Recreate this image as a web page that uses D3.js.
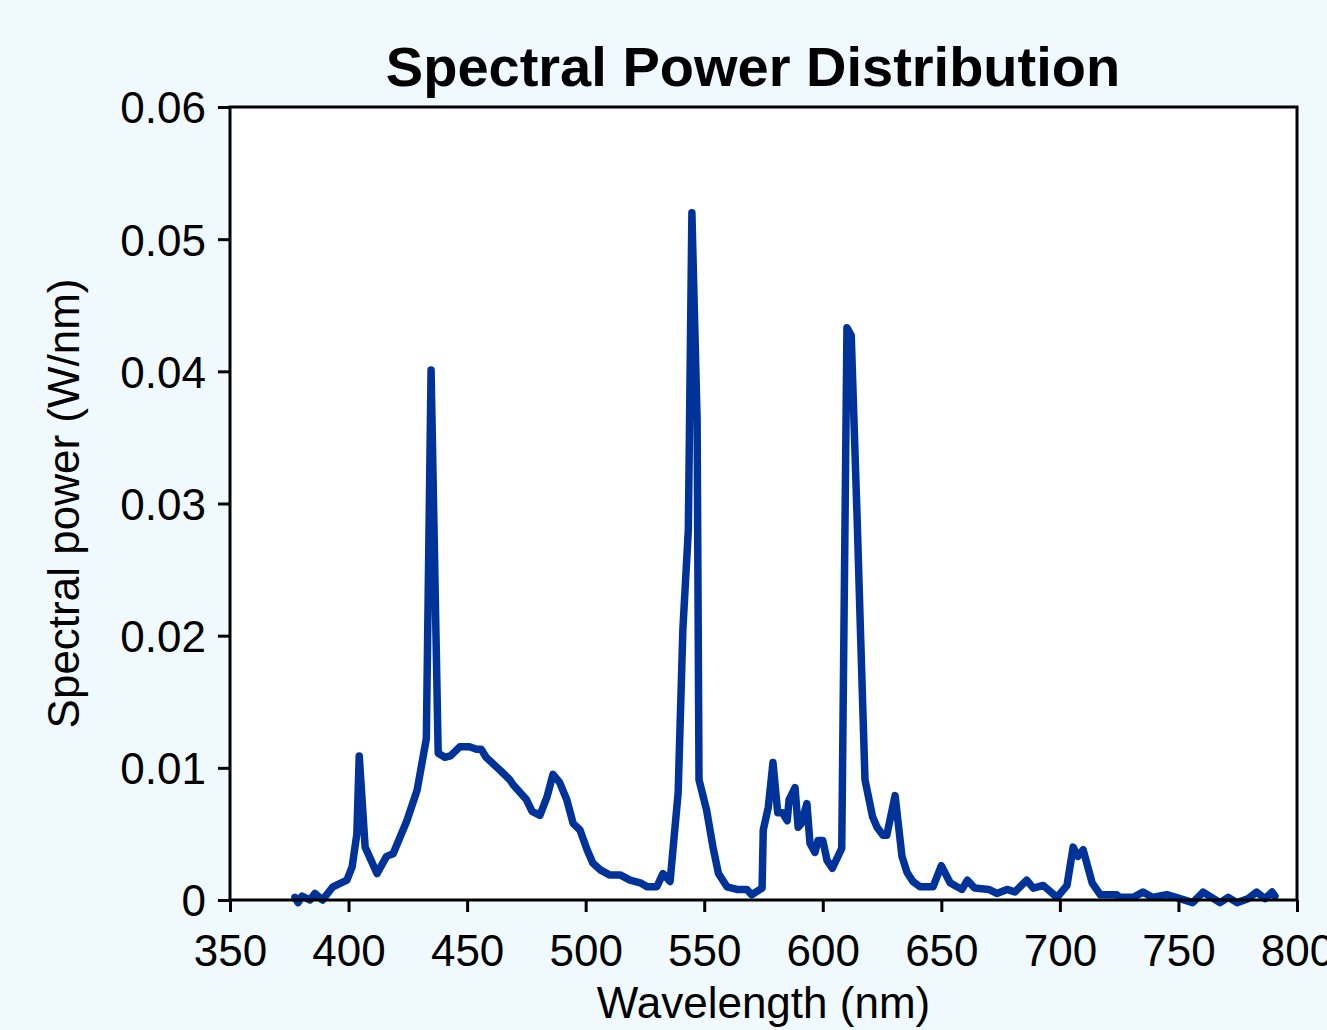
<!DOCTYPE html>
<html>
<head>
<meta charset="utf-8">
<script src="https://cdn.jsdelivr.net/npm/d3@7"></script>
<style>
  body { margin: 0; background: #f0f9fd; }
  svg { display: block; font-family: "Liberation Sans", Arial, sans-serif; }
</style>
</head>
<body>
<div class="chart"></div>
<script>
const W = 1327, H = 1030;
const margin = ({top: 107, right: 30, bottom: 130, left: 230});
const width = W - margin.left - margin.right;
const height = H - margin.top - margin.bottom;

// data
const wavelengths = [377.4, 378.7, 380.4, 383.7, 385.8, 389, 393.4, 399.3, 401.5, 403.5,
  404.5, 407, 412, 416, 418.8, 424.6, 428.9, 432.8, 434.8, 437.8,
  440.6, 443, 447, 451, 454, 456, 458, 464, 468, 469.5,
  475, 477.4, 480.7, 483.7, 486.2, 489, 492, 494.7, 497.6, 500.6,
  503, 506, 510, 514.5, 518.7, 523, 525.9, 530, 532.6, 535.6,
  539, 541, 543.3, 544.8, 547, 547.8, 551, 553.7, 556, 559.6,
  563.8, 568, 570, 574.4, 574.9, 577, 579, 581, 583, 585,
  585.8, 588.3, 589.6, 591, 593.3, 594.6, 596.7, 598, 600, 601.8,
  604, 608, 610.2, 612, 614.5, 616, 617.8, 621, 622.9, 625.4,
  627, 630.5, 633.4, 635.5, 638, 641, 646.5, 650, 653.7, 656.6,
  658.7, 661, 664, 670, 673.4, 677.7, 681, 686, 688.8, 693,
  698.8, 703, 705.6, 707.6, 709.8, 713.6, 717, 724, 725, 731,
  735, 739, 745, 749, 756, 760.4, 767.5, 771, 774.7, 779.3,
  783, 786.5, 789.5, 790.7];
const power = [0.0002, -0.0002, 0.0003, 0.0000, 0.0005, 0.0000, 0.0010, 0.0015, 0.0025, 0.0050,
  0.0109, 0.0040, 0.0020, 0.0033, 0.0035, 0.0060, 0.0083, 0.0122, 0.0401, 0.0111,
  0.0108, 0.0109, 0.0116, 0.0116, 0.0114, 0.0114, 0.0108, 0.0098, 0.0091, 0.0087,
  0.0076, 0.0067, 0.0064, 0.0078, 0.0095, 0.0089, 0.0076, 0.0058, 0.0053, 0.0038,
  0.0028, 0.0023, 0.0019, 0.0019, 0.0015, 0.0013, 0.0010, 0.0010, 0.0020, 0.0014,
  0.0081, 0.0205, 0.0280, 0.0520, 0.0363, 0.0091, 0.0068, 0.0040, 0.0020, 0.0010,
  0.0008, 0.0008, 0.0004, 0.0009, 0.0053, 0.0070, 0.0104, 0.0066, 0.0066, 0.0060,
  0.0076, 0.0085, 0.0055, 0.0058, 0.0073, 0.0043, 0.0036, 0.0045, 0.0045, 0.0030,
  0.0024, 0.0039, 0.0433, 0.0427, 0.0288, 0.0197, 0.0091, 0.0063, 0.0055, 0.0049,
  0.0049, 0.0079, 0.0033, 0.0021, 0.0014, 0.0010, 0.0010, 0.0026, 0.0013, 0.0010,
  0.0008, 0.0015, 0.0009, 0.0008, 0.0005, 0.0008, 0.0006, 0.0015, 0.0009, 0.0011,
  0.0002, 0.0011, 0.0040, 0.0033, 0.0038, 0.0013, 0.0004, 0.0004, 0.0002, 0.0002,
  0.0006, 0.0002, 0.0004, 0.0002, -0.0002, 0.0006, -0.0002, 0.0002, -0.0002, 0.0001,
  0.0006, 0.0001, 0.0006, 0.0003];

const xTicks = [350, 400, 450, 500, 550, 600, 650, 700, 750, 800];
const yTicks = [0, 0.01, 0.02, 0.03, 0.04, 0.05, 0.06];

const data = wavelengths.map((w, i) => ({w: w, p: power[i]}));

const x = d3.scaleLinear().domain([350, 800]).range([0, width]);
const y = d3.scaleLinear().domain([0, 0.06]).range([height, 0]);

const svg = d3.select('.chart').append('svg')
    .attr('width', W)
    .attr('height', H);

svg.append('rect')
    .attr('width', W).attr('height', H)
    .attr('fill', '#f0f9fd');

const g = svg.append('g')
    .attr('transform', `translate(${margin.left},${margin.top})`);

// plot area
g.append('rect')
    .attr('width', width).attr('height', height)
    .attr('fill', 'white');

const xAxis = d3.axisBottom(x)
    .tickValues(xTicks)
    .tickSize(12).tickSizeOuter(0).tickPadding(12)
    .tickFormat(d3.format('d'));

const yAxis = d3.axisLeft(y)
    .tickValues(yTicks)
    .tickSize(12).tickSizeOuter(0).tickPadding(12)
    .tickFormat(d => d === 0 ? '0' : d3.format('.2f')(d));

const gx = g.append('g')
    .attr('transform', `translate(0,${height})`)
    .call(xAxis);
const gy = g.append('g').call(yAxis);

[gx, gy].forEach(a => {
    a.select('.domain').remove();
    a.selectAll('.tick line').attr('stroke', 'black').attr('stroke-width', 3);
    a.selectAll('.tick text')
        .attr('fill', 'black')
        .style('font-size', '44px')
        .style('font-family', '"Liberation Sans", Arial, sans-serif');
});
gy.selectAll('.tick text').attr('dy', '0.36em');
gx.selectAll('.tick text').attr('dy', '0.95em');

const line = d3.line()
    .x(d => x(d.w))
    .y(d => y(d.p));

g.append('path')
    .datum(data)
    .attr('fill', 'none')
    .attr('stroke', '#003399')
    .attr('stroke-width', 7.5)
    .attr('stroke-linejoin', 'round')
    .attr('stroke-linecap', 'round')
    .attr('d', line);

// frame
g.append('rect')
    .attr('width', width).attr('height', height)
    .attr('fill', 'none')
    .attr('stroke', 'black')
    .attr('stroke-width', 3);

svg.append('text')
    .attr('x', 753)
    .attr('y', 86)
    .attr('text-anchor', 'middle')
    .style('font-size', '56px')
    .style('font-weight', 'bold')
    .text('Spectral Power Distribution');

svg.append('text')
    .attr('x', margin.left + width / 2)
    .attr('y', 1018)
    .attr('text-anchor', 'middle')
    .style('font-size', '44px')
    .text('Wavelength (nm)');

svg.append('text')
    .attr('transform', `translate(79,${margin.top + height / 2}) rotate(-90)`)
    .attr('text-anchor', 'middle')
    .style('font-size', '44px')
    .text('Spectral power (W/nm)');
</script>
</body>
</html>
